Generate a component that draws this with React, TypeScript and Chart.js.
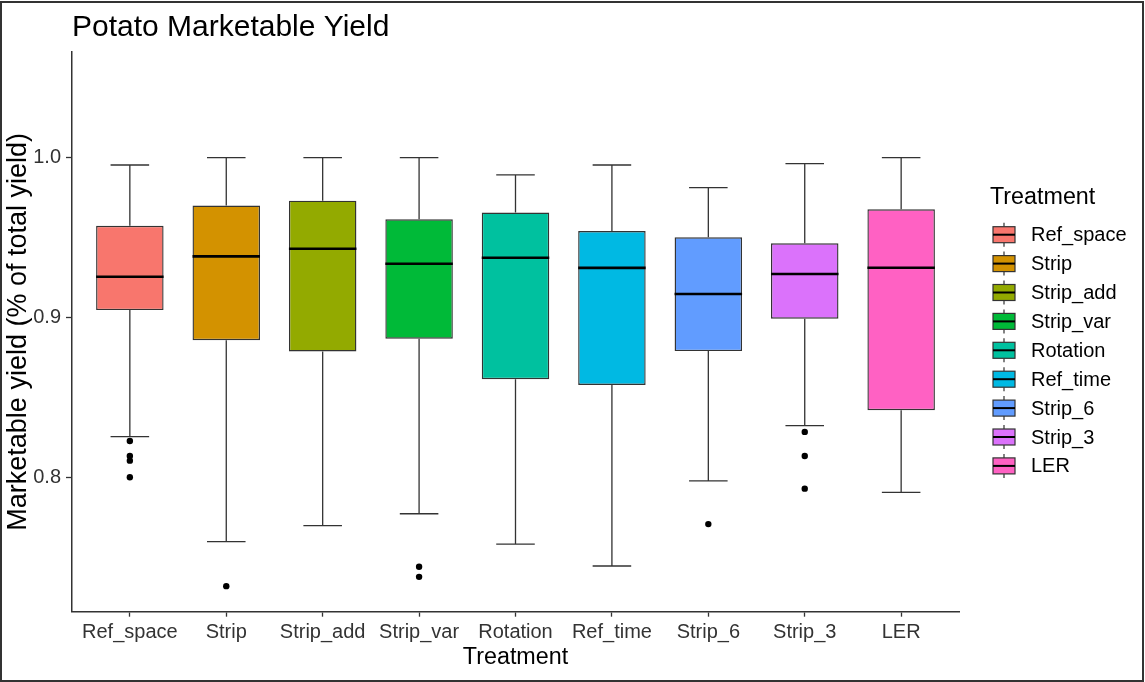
import React, { useEffect, useRef } from "react";
import { Chart, registerables } from "chart.js";

Chart.register(...registerables);

const categories = ["Ref_space", "Strip", "Strip_add", "Strip_var", "Rotation", "Ref_time", "Strip_6", "Strip_3", "LER"];
const colors = ["#F8766D", "#D39200", "#93AA00", "#00BA38", "#00C19F", "#00B9E3", "#619CFF", "#DB72FB", "#FF61C3"];
const lowerWhisker = [0.8254, 0.7597, 0.7697, 0.7772, 0.7582, 0.7445, 0.7977, 0.8323, 0.7906];
const q1 = [0.9046, 0.8858, 0.8787, 0.8867, 0.8614, 0.8578, 0.879, 0.8992, 0.842];
const median = [0.9255, 0.9382, 0.943, 0.9336, 0.9374, 0.931, 0.9147, 0.9272, 0.9311];
const q3 = [0.9574, 0.97, 0.9731, 0.9614, 0.9656, 0.9541, 0.9502, 0.9464, 0.9677];
const upperWhisker = [0.9954, 1.0, 1.0, 1.0, 0.9892, 0.9954, 0.9813, 0.9963, 1.0];
const outliers: number[][] = [
  [0.8227, 0.8133, 0.8104, 0.8],
  [0.7319],
  [],
  [0.744, 0.7377],
  [],
  [],
  [0.7707],
  [0.8284, 0.8133, 0.7929],
  [],
];
const yTicks = [0.8, 0.9, 1.0];

const FONT = "'Liberation Sans', Arial, Helvetica, sans-serif";

const boxPlugin = {
  id: "boxExtras",
  beforeDatasetsDraw(chart: any) {
    const { ctx, scales } = chart;
    const x = scales.x;
    const y = scales.y;
    ctx.save();
    ctx.strokeStyle = "#333333";
    ctx.lineWidth = 1.3;
    categories.forEach((_, i) => {
      const cx = x.getPixelForValue(i);
      const capL = x.getPixelForValue(i - 0.2);
      const capR = x.getPixelForValue(i + 0.2);
      const yU = y.getPixelForValue(upperWhisker[i]);
      const yQ3 = y.getPixelForValue(q3[i]);
      const yQ1 = y.getPixelForValue(q1[i]);
      const yL = y.getPixelForValue(lowerWhisker[i]);
      ctx.beginPath();
      ctx.moveTo(cx, yU);
      ctx.lineTo(cx, yQ3);
      ctx.moveTo(cx, yQ1);
      ctx.lineTo(cx, yL);
      ctx.moveTo(capL, yU);
      ctx.lineTo(capR, yU);
      ctx.moveTo(capL, yL);
      ctx.lineTo(capR, yL);
      ctx.stroke();
    });
    ctx.restore();
  },
  afterDatasetsDraw(chart: any) {
    const { ctx, scales } = chart;
    const x = scales.x;
    const y = scales.y;
    ctx.save();
    ctx.strokeStyle = "#000000";
    ctx.lineWidth = 2.6;
    categories.forEach((_, i) => {
      const l = x.getPixelForValue(i - 0.35);
      const r = x.getPixelForValue(i + 0.35);
      const ym = y.getPixelForValue(median[i]);
      ctx.beginPath();
      ctx.moveTo(l, ym);
      ctx.lineTo(r, ym);
      ctx.stroke();
    });
    ctx.restore();
  },
  afterDraw(chart: any) {
    const { ctx } = chart;
    ctx.save();
    // main title
    ctx.fillStyle = "#000000";
    ctx.font = `30px ${FONT}`;
    ctx.textAlign = "left";
    ctx.textBaseline = "alphabetic";
    ctx.fillText("Potato Marketable Yield", 72, 36);
    // legend title
    ctx.font = `23.3px ${FONT}`;
    ctx.textBaseline = "middle";
    ctx.fillText("Treatment", 990, 198);
    // legend keys
    categories.forEach((c, i) => {
      const yc = 234.7 + i * 28.9;
      const kx = 993;
      const kw = 22;
      const cx = kx + kw / 2;
      ctx.strokeStyle = "#333333";
      ctx.lineWidth = 1.2;
      ctx.beginPath();
      ctx.moveTo(cx, yc - 12);
      ctx.lineTo(cx, yc - 8);
      ctx.moveTo(cx, yc + 8);
      ctx.lineTo(cx, yc + 12);
      ctx.stroke();
      ctx.fillStyle = colors[i];
      ctx.fillRect(kx, yc - 8, kw, 16);
      ctx.strokeRect(kx, yc - 8, kw, 16);
      ctx.strokeStyle = "#000000";
      ctx.lineWidth = 2;
      ctx.beginPath();
      ctx.moveTo(kx, yc);
      ctx.lineTo(kx + kw, yc);
      ctx.stroke();
      ctx.fillStyle = "#000000";
      ctx.font = `20px ${FONT}`;
      ctx.textBaseline = "middle";
      ctx.fillText(c, 1031, yc + 1);
    });
    // frame
    ctx.strokeStyle = "#333333";
    ctx.lineWidth = 2;
    ctx.strokeRect(1, 2, 1142, 679);
    ctx.restore();
  },
};

export default function App() {
  const canvasRef = useRef<HTMLCanvasElement | null>(null);

  useEffect(() => {
    const canvas = canvasRef.current;
    if (!canvas) return;
    const outlierPoints: { x: number; y: number }[] = [];
    outliers.forEach((arr, i) => arr.forEach((v) => outlierPoints.push({ x: i, y: v })));

    const chart = new Chart(canvas, {
      type: "bar",
      data: {
        datasets: [
          {
            type: "scatter",
            label: "outliers",
            data: outlierPoints,
            pointRadius: 3.2,
            pointBackgroundColor: "#000000",
            pointBorderWidth: 0,
            showLine: false,
          } as any,
          {
            type: "bar",
            label: "box",
            data: categories.map((_, i) => ({ x: i, y: [q1[i], q3[i]] })) as any,
            backgroundColor: colors,
            borderColor: "#333333",
            borderWidth: 1.4,
            borderSkipped: false,
            barPercentage: 0.7,
            categoryPercentage: 1,
          } as any,
        ],
      },
      options: {
        responsive: false,
        animation: false,
        devicePixelRatio: 1,
        layout: { padding: { top: 52, right: 186, bottom: 0, left: 0 } },
        plugins: {
          legend: { display: false },
          tooltip: { enabled: false },
          title: { display: false },
        },
        scales: {
          x: {
            type: "linear",
            min: -0.6,
            max: 8.6,
            offset: false,
            bounds: "data",
            grid: {
              display: true,
              drawOnChartArea: false,
              drawTicks: true,
              tickLength: 5,
              tickColor: "#333333",
              tickWidth: 1.3,
              offset: false,
            },
            border: { display: true, color: "#333333", width: 1.5 },
            ticks: {
              padding: 4,
              color: "#333333",
              font: { family: FONT, size: 20 },
              maxRotation: 0,
              autoSkip: false,
              callback: (v: any) => categories[Math.round(Number(v))] ?? "",
            },
            afterBuildTicks: (s: any) => {
              s.ticks = categories.map((_, i) => ({ value: i }));
            },
            afterFit: (s: any) => {
              s.height = 70.3;
            },
            title: {
              display: true,
              text: "Treatment",
              color: "#000000",
              font: { family: FONT, size: 23.3 },
              padding: { top: 0, bottom: 10 },
            },
          },
          y: {
            type: "linear",
            min: 0.7159,
            max: 1.0661,
            beginAtZero: false,
            bounds: "data",
            grid: {
              display: true,
              drawOnChartArea: false,
              drawTicks: true,
              tickLength: 6,
              tickColor: "#333333",
              tickWidth: 1.3,
            },
            border: { display: true, color: "#333333", width: 1.5 },
            ticks: {
              padding: 5,
              color: "#333333",
              font: { family: FONT, size: 20 },
              callback: (v: any) => Number(v).toFixed(1),
            },
            afterBuildTicks: (s: any) => {
              s.ticks = yTicks.map((v) => ({ value: v }));
            },
            afterFit: (s: any) => {
              s.width = 72;
            },
            title: {
              display: true,
              text: "Marketable yield (% of total yield)",
              color: "#000000",
              font: { family: FONT, size: 27 },
              padding: { top: 2, bottom: 0 },
            },
          },
        },
      },
      plugins: [boxPlugin],
    });
    return () => chart.destroy();
  }, []);

  return (
    <div style={{ position: "fixed", left: 0, top: 0, width: 1145, height: 682, background: "#ffffff" }}>
      <canvas ref={canvasRef} width={1145} height={682} style={{ width: 1145, height: 682, display: "block" }} />
    </div>
  );
}
